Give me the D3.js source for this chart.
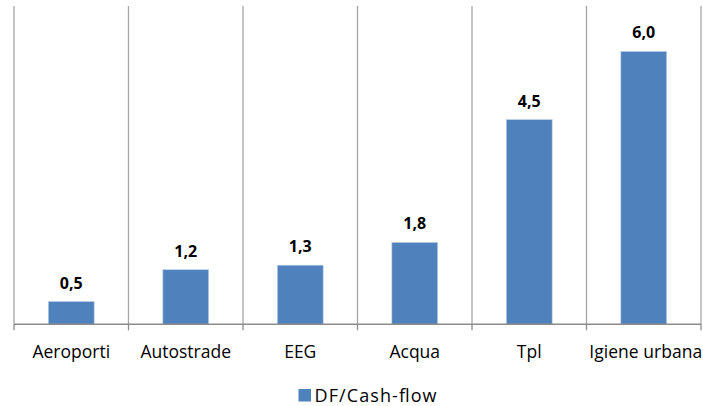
<!DOCTYPE html>
<html><head><meta charset="utf-8">
<script src="https://cdn.jsdelivr.net/npm/d3@7"></script>
<style>
html,body{margin:0;padding:0;background:#fff;}
svg{display:block;}
text{font-family:"Open Sans","Noto Sans",sans-serif;}
</style></head>
<body>
<script>
const categories = ["Aeroporti","Autostrade","EEG","Acqua","Tpl","Igiene urbana"];
const values = [0.5,1.2,1.3,1.8,4.5,6.0];
const seriesName = "DF/Cash-flow";

(function(){
const W = 703, H = 406;
const pLeft = 14, pRight = 701, pTop = 6, pBottom = 324.3;
const svg = d3.select("body").append("svg").attr("width",W).attr("height",H);

const x = d3.scaleBand().domain(categories).range([pLeft,pRight]).paddingInner(0.6).paddingOuter(0.3);
const xb = d3.scaleBand().domain(categories).range([pLeft,pRight]).padding(0);
const y = d3.scaleLinear().domain([0,7]).range([pBottom,pTop]);

const bounds = categories.map(c=>xb(c)).concat([pRight]);
svg.selectAll("line.grid").data(bounds).enter().append("line")
  .attr("x1",d=>d).attr("x2",d=>d).attr("y1",pTop).attr("y2",pBottom)
  .attr("stroke","#a6a6a6").attr("stroke-width",1.3);

svg.selectAll("rect.bar").data(values).enter().append("rect")
  .attr("x",(d,i)=>x(categories[i])).attr("width",x.bandwidth())
  .attr("y",d=>y(d)).attr("height",d=>pBottom-y(d))
  .attr("fill","#4f81bd").attr("stroke","#b9cde5").attr("stroke-width",0.6);

const axis = d3.axisBottom(xb).tickSize(0).tickFormat("");
const ag = svg.append("g").attr("transform",`translate(0,${pBottom})`).call(axis);
ag.select(".domain").remove();
svg.append("line").attr("x1",pLeft).attr("x2",pRight).attr("y1",pBottom).attr("y2",pBottom)
  .attr("stroke","#8c8c8c").attr("stroke-width",1.5);
svg.selectAll("line.tick").data(bounds).enter().append("line")
  .attr("x1",d=>d).attr("x2",d=>d).attr("y1",pBottom).attr("y2",pBottom+6)
  .attr("stroke","#8c8c8c").attr("stroke-width",1.3);

svg.selectAll("text.cat").data(categories).enter().append("text")
  .attr("x",d=>xb(d)+xb.bandwidth()/2 + (d==="Igiene urbana" ? 2 : 0)).attr("y",358)
  .attr("text-anchor","middle").attr("font-size",17.5).attr("fill","#000")
  .attr("textLength", d=> d==="Igiene urbana" ? 113 : null)
  .text(d=>d);

svg.selectAll("text.val").data(values).enter().append("text")
  .attr("x",(d,i)=>x(categories[i])+x.bandwidth()/2).attr("y",d=>y(d)-13)
  .attr("text-anchor","middle").attr("font-size",16).attr("font-weight","bold").attr("fill","#000")
  .text(d=>d3.format(".1f")(d).replace(".",","));

svg.append("rect").attr("x",298.5).attr("y",389).attr("width",12.5).attr("height",12.5).attr("fill","#4f81bd");
svg.append("text").attr("x",314.5).attr("y",401.5).attr("font-size",18).attr("fill","#000")
  .attr("textLength",122).text(seriesName);
})();
</script>
</body></html>
